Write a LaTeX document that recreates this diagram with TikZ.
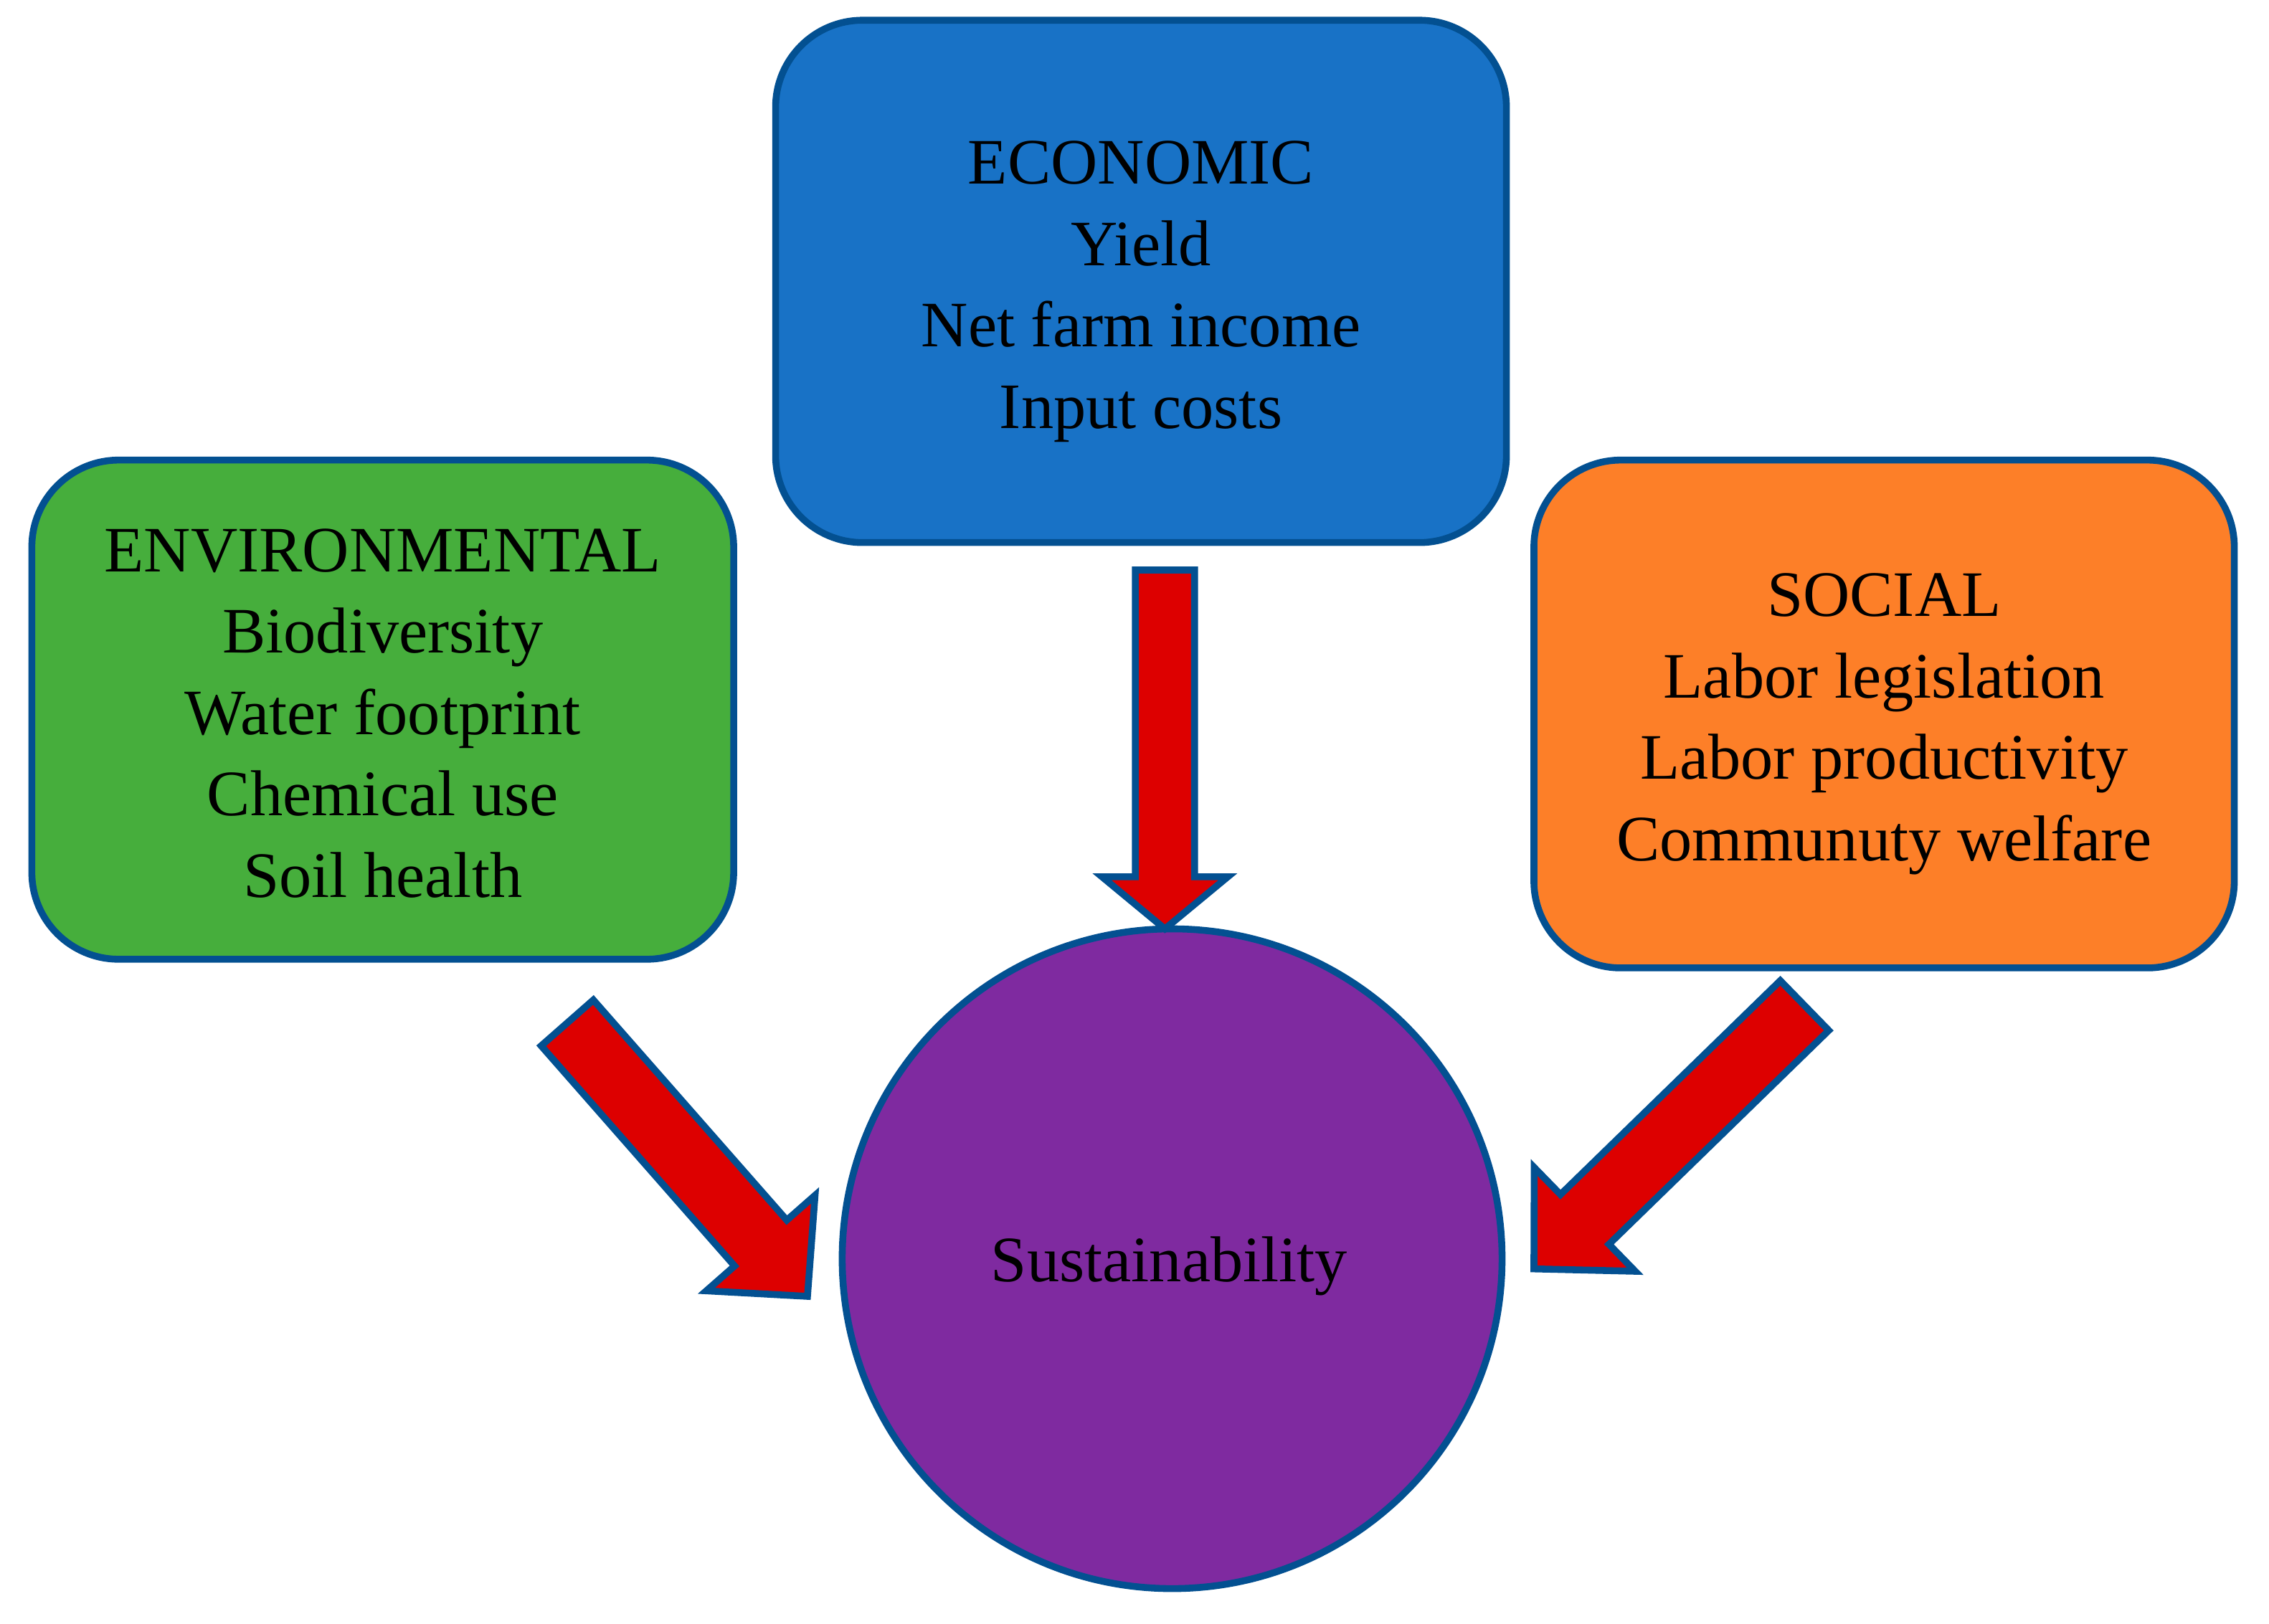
\documentclass[tikz,border=0pt]{standalone}
\usepackage{fontspec}
\setmainfont{Liberation Serif}
\usetikzlibrary{calc}
\definecolor{rim}{RGB}{3,80,145}
\definecolor{econfill}{RGB}{24,114,198}
\definecolor{envfill}{RGB}{70,174,60}
\definecolor{socfill}{RGB}{253,127,40}
\definecolor{sustfill}{RGB}{127,42,160}
\definecolor{arrowred}{RGB}{221,0,0}
\tikzset{
  pillar/.style={draw=rim, line width=2.7pt, rounded corners=1.2cm, inner sep=0pt},
  pillartext/.style={align=center, inner sep=0pt, font=\fontsize{25.5}{32}\selectfont},
  fatarrow/.style={draw=rim, fill=arrowred, line width=2.7pt, line join=miter},
}

\begin{document}
\begin{tikzpicture}
\useasboundingbox (0,0) rectangle (31.36,-22.44);
\node[pillar, fill=econfill, minimum width=10.1cm, minimum height=7.22cm] (econ) at (15.77,-3.89) {};
\node[pillartext] (econ-text) at ([yshift=-0.14cm]econ.center) {ECONOMIC\\Yield\\Net farm income\\Input costs};
\node[pillar, fill=envfill, minimum width=9.7cm, minimum height=6.9cm] (env) at (5.29,-9.81) {};
\node[pillartext] (env-text) at ([yshift=-0.05cm]env.center) {ENVIRONMENTAL\\Biodiversity\\Water footprint\\Chemical use\\Soil health};
\node[pillar, fill=socfill, minimum width=9.68cm, minimum height=7.02cm] (soc) at (26.04,-9.87) {};
\node[pillartext] (soc-text) at ([yshift=-0.14cm]soc.center) {SOCIAL\\Labor legislation\\Labor productivity\\Communuty welfare};
\node[circle, draw=rim, fill=sustfill, line width=2.7pt, minimum size=9.12cm] (sust) at (16.2,-17.4) {};
\node[pillartext] (sust-text) at ([xshift=-0.04cm,yshift=-0.1cm]sust.center) {Sustainability};
% block arrows: tail and tip
\coordinate (econ-out) at (16.1,-7.88); \coordinate (sust-top) at (16.1,-12.84);
\coordinate (env-out) at (7.84,-14.14); \coordinate (sust-left) at (11.16,-17.92);
\coordinate (soc-out) at (24.94,-13.90); \coordinate (sust-right) at (21.2,-17.54);
\foreach \s/\t/\w/\h/\l in {econ-out/sust-top/0.41cm/0.87cm/0.72cm, env-out/sust-left/0.48cm/1.0cm/0.98cm, soc-out/sust-right/0.48cm/1.0cm/0.98cm} {
  \path ($(\t)!\l!(\s)$) coordinate (hb);
  \draw[fatarrow] ($(\s)!\w!90:(\t)$) -- ($(hb)!\w!90:(\t)$) -- ($(hb)!\h!90:(\t)$) -- (\t) -- ($(hb)!\h!-90:(\t)$) -- ($(hb)!\w!-90:(\t)$) -- ($(\s)!\w!-90:(\t)$) -- cycle;
};
\end{tikzpicture}
\end{document}
